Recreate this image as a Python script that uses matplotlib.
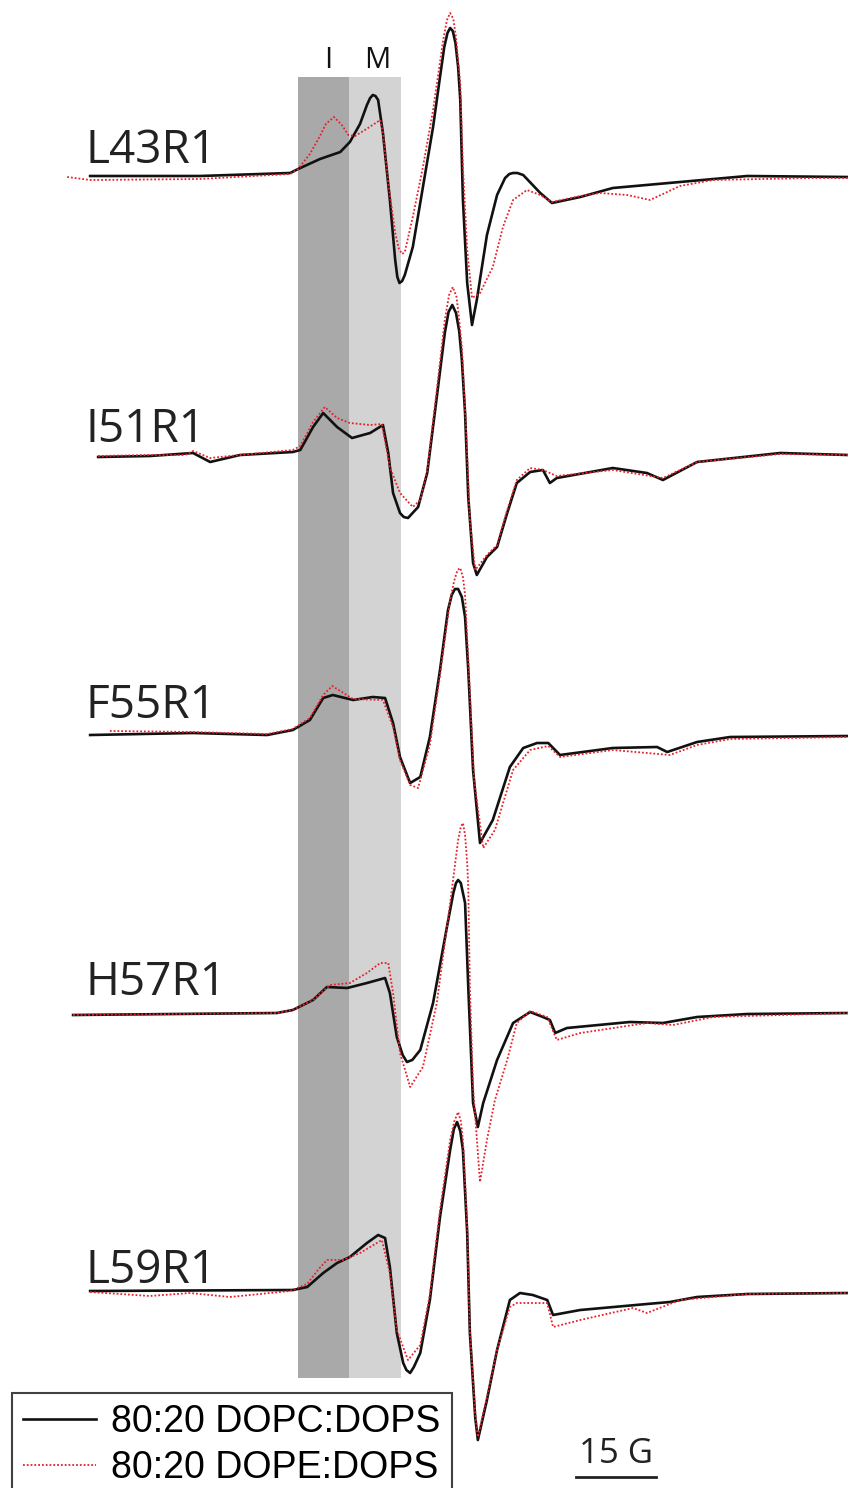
import numpy as np
import matplotlib
matplotlib.use("Agg")
import matplotlib.pyplot as plt

plt.rcParams['font.family'] = ['Open Sans', 'DejaVu Sans']

# =========================
# data: (field in G, signal in a.u. with baseline = 0)
# pc = 80:20 DOPC:DOPS (black), pe = 80:20 DOPE:DOPS (red)
# =========================
names = ["L43R1", "I51R1", "F55R1", "H57R1", "L59R1"]
legend_labels = ["80:20 DOPC:DOPS", "80:20 DOPE:DOPS"]

l43_pc = [(16.9, 1), (37.5, 1), (54.4, 4), (55.9, 8), (60.0, 18), (63.8, 25), (65.6, 35), (67.5, 53),
          (68.8, 72), (69.4, 79), (69.9, 82), (70.4, 81), (70.9, 77), (71.8, 44), (73.1, -23), (74.1, -83),
          (74.5, -100), (74.9, -106), (75.4, -104), (75.9, -98), (77.4, -70), (79.3, -10), (81.2, 50),
          (82.5, 100), (83.3, 130), (83.9, 144), (84.4, 149), (84.9, 146), (85.4, 134), (85.9, 110),
          (86.3, 77), (86.8, -23), (87.6, -106), (88.5, -148), (89.4, -123), (91.3, -58), (93.2, -18),
          (94.7, -1), (95.5, 3), (96.2, 4), (97.0, 4), (98.1, 2), (101.3, -16), (103.5, -26), (108.8, -20),
          (114.9, -11), (127.5, -5), (140.1, 1), (159.0, 0)]
l43_pe = [(12.6, 0), (16.9, -3), (37.5, -2), (54.4, 3), (55.9, 8), (58.1, 23), (60.0, 41), (61.1, 53),
          (62.6, 60), (64.1, 52), (65.3, 42), (66.6, 41), (69.0, 49), (71.3, 57), (71.8, 44), (72.8, -6),
          (74.1, -56), (74.8, -72), (75.4, -77), (75.9, -75), (77.4, -40), (79.3, 10), (81.2, 67),
          (83.1, 137), (83.8, 157), (84.4, 164), (85.0, 158), (85.5, 140), (86.0, 110), (86.3, 94),
          (86.8, 10), (87.6, -73), (88.5, -121), (90.0, -116), (92.4, -90), (94.3, -50), (96.2, -23),
          (98.8, -13), (101.3, -18), (103.5, -25), (108.8, -19), (112.5, -16), (117.6, -18), (121.9, -23),
          (127.5, -9), (133.7, -3), (152.4, -1), (159.0, -1)]

i51_pc = [(18.4, -2), (28.1, -1), (36.2, 2), (39.4, -7), (45.0, 0), (54.9, 3), (56.3, 5), (58.7, 28),
          (60.6, 42), (63.2, 28), (66.0, 17), (69.4, 22), (71.8, 30), (72.8, 2), (73.7, -38), (75.0, -58),
          (75.7, -62), (76.5, -63), (78.4, -52), (80.1, -18), (81.9, 58), (83.4, 122), (84.1, 143),
          (84.8, 150), (85.5, 142), (86.1, 124), (86.6, 95), (87.2, 42), (87.8, -42), (88.7, -108),
          (89.4, -120), (91.3, -102), (93.2, -92), (95.1, -58), (96.9, -28), (99.4, -17), (101.8, -15),
          (103.1, -28), (104.4, -23), (114.9, -13), (121.3, -18), (124.3, -25), (130.7, -7), (146.3, 2),
          (159.0, 0)]
i51_pe = [(18.4, -1), (28.1, 0), (34.7, 0), (36.2, 4), (39.4, -3), (45.0, 0), (54.9, 5), (56.3, 9),
          (58.7, 33), (60.9, 48), (63.2, 37), (65.6, 32), (69.4, 30), (71.6, 31), (73.1, -12), (75.0, -38),
          (77.4, -52), (78.8, -45), (80.1, -15), (81.9, 65), (83.4, 135), (84.2, 160), (84.9, 168),
          (85.6, 158), (86.1, 135), (86.6, 108), (87.4, 25), (88.1, -65), (89.1, -115), (91.3, -100),
          (93.2, -90), (95.1, -55), (96.9, -25), (99.4, -13), (101.8, -15), (104.4, -21), (114.9, -15),
          (124.3, -23), (130.7, -7), (146.3, 1), (159.0, 0)]

f55_pc = [(16.9, 0), (36.2, 2), (50.1, 0), (54.9, 5), (58.1, 15), (60.6, 37), (62.4, 40), (66.2, 35),
          (69.9, 38), (72.2, 37), (73.7, 12), (75.0, -22), (76.9, -48), (78.8, -42), (80.6, -2), (82.5, 65),
          (84.0, 125), (84.7, 140), (85.3, 146), (85.9, 146), (86.6, 138), (87.2, 118), (87.8, 65),
          (88.7, -35), (90.0, -108), (92.4, -85), (95.6, -32), (98.1, -13), (100.7, -8), (102.8, -8),
          (105.0, -20), (114.9, -13), (123.2, -12), (125.1, -17), (130.7, -7), (136.9, -2), (159.0, -1)]
f55_pe = [(20.6, 4), (36.2, 3), (50.1, 1), (54.9, 6), (58.1, 17), (60.6, 40), (62.3, 49), (66.2, 36),
          (71.8, 35), (73.7, 8), (75.0, -25), (76.9, -50), (78.4, -53), (80.6, -10), (82.5, 60), (84.4, 135),
          (85.2, 155), (85.8, 165), (86.3, 167), (86.8, 158), (87.2, 140), (87.9, 65), (88.9, -45),
          (90.6, -113), (92.8, -95), (96.2, -35), (99.4, -15), (102.8, -11), (105.0, -22), (114.9, -15),
          (125.6, -20), (130.7, -10), (136.9, -4), (159.0, -2)]

h57_pc = [(13.7, -2), (51.9, 0), (54.9, 3), (58.7, 13), (61.3, 26), (65.1, 25), (68.8, 30), (72.2, 35),
          (73.1, 20), (74.4, -24), (75.5, -42), (76.3, -49), (77.3, -47), (78.8, -37), (81.2, 10), (83.8, 86),
          (85.0, 120), (85.5, 130), (85.9, 133), (86.4, 130), (87.2, 110), (87.8, 26), (88.7, -90),
          (89.6, -114), (90.6, -90), (93.2, -47), (96.2, -10), (99.4, 1), (101.8, -4), (103.1, -7),
          (104.1, -20), (106.3, -15), (118.1, -9), (124.3, -10), (130.7, -4), (140.1, -1), (159.0, 0)]
h57_pe = [(13.7, -2), (51.9, 0), (54.9, 3), (58.7, 13), (61.9, 28), (65.6, 30), (68.8, 40), (71.3, 50),
          (72.8, 50), (73.7, 20), (75.0, -40), (76.9, -74), (79.3, -54), (81.9, 10), (84.4, 110),
          (85.9, 173), (86.4, 186), (86.8, 190), (87.2, 178), (87.6, 150), (87.8, 126), (88.1, 26),
          (88.7, -74), (90.0, -169), (91.3, -127), (92.8, -87), (95.1, -47), (96.9, -10), (99.4, 2),
          (102.6, -4), (104.4, -27), (108.8, -20), (121.3, -10), (126.2, -12), (133.7, -4), (159.0, 0)]

l59_pc = [(16.9, 0), (54.9, 1), (57.6, 4), (60.6, 18), (63.2, 28), (65.6, 34), (68.8, 48), (70.9, 56),
          (72.2, 53), (73.1, 24), (74.4, -42), (75.6, -72), (76.2, -79), (76.9, -82), (77.6, -76),
          (78.8, -62), (80.6, -9), (82.5, 74), (84.4, 141), (85.1, 162), (85.7, 169), (86.3, 160),
          (86.8, 141), (87.6, 58), (88.1, -42), (89.1, -126), (89.6, -149), (91.3, -109), (93.2, -59),
          (95.6, -9), (97.5, -2), (99.9, -4), (102.6, -9), (103.7, -24), (108.8, -19), (121.3, -13),
          (125.6, -11), (130.7, -6), (140.1, -3), (159.0, -2)]
l59_pe = [(16.9, -1), (28.1, -5), (35.6, -2), (43.1, -6), (54.4, 0), (57.6, 7), (59.6, 21), (61.3, 31),
          (64.3, 31), (67.5, 38), (71.6, 51), (73.1, 18), (74.4, -39), (76.5, -69), (78.8, -54), (80.6, -4),
          (82.5, 81), (84.4, 151), (85.2, 170), (85.9, 179), (86.4, 170), (86.8, 151), (87.6, 66),
          (88.1, -39), (89.1, -122), (89.6, -146), (91.3, -106), (93.2, -59), (95.6, -16), (96.9, -12),
          (102.6, -12), (103.7, -36), (108.8, -29), (118.7, -17), (121.3, -22), (127.5, -9), (140.1, -3),
          (159.0, -2)]

pc_spectra = [l43_pc, i51_pc, f55_pc, h57_pc, l59_pc]
pe_spectra = [l43_pe, i51_pe, f55_pe, h57_pe, l59_pe]

# shaded regions (G)
band_i = (55.9, 65.4)
band_m = (65.4, 75.2)
scale_g = 15

# =========================
# layout
# =========================
offsets = [-177, -455, -735, -1013, -1291]
label_y = [-163, -442, -718, -995, -1283]

fig = plt.figure(figsize=(8.48, 14.88), dpi=100)
ax = fig.add_axes([0, 0, 1, 1])
ax.set_xlim(0, 159)
ax.set_ylim(-1488, 0)
ax.axis('off')

ax.axvspan(*band_i, ymin=0.074, ymax=0.948, color='#a9a9a9', lw=0, zorder=0)
ax.axvspan(*band_m, ymin=0.074, ymax=0.948, color='#d3d3d3', lw=0, zorder=0)
ax.text(61.5, -68, "I", ha='center', va='baseline', fontsize=21, color='#111111')
ax.text(70.7, -68, "M", ha='center', va='baseline', fontsize=21, color='#111111')

handles = []
for i in range(len(names)):
    pc = np.array(pc_spectra[i])
    pe = np.array(pe_spectra[i])
    h2, = ax.plot(pe[:, 0], pe[:, 1] + offsets[i], color='#e8202a',
                  lw=1.3, ls=(0, (1, 1.1)), zorder=3)
    h1, = ax.plot(pc[:, 0], pc[:, 1] + offsets[i], color='#111111',
                  lw=1.9, solid_joinstyle='round', zorder=2)
    ax.text(16.0, label_y[i], names[i], ha='left', va='baseline', fontsize=33, color='#222222')
    if i == 0:
        handles = [h1, h2]

# scale bar
ax.plot([108.0, 108.0 + scale_g], [-1477, -1477], color='#222222', lw=2)
ax.text(108.0 + scale_g / 2, -1463, f"{scale_g} G", ha='center', va='baseline', fontsize=25, color='#222222')

leg = ax.legend(handles, legend_labels, loc='upper left', bbox_to_anchor=(0.014, 0.0638),
                bbox_transform=fig.transFigure, frameon=True, fancybox=False, borderaxespad=0,
                prop={'family': 'Liberation Sans', 'size': 27}, handlelength=1.95, handletextpad=0.4,
                labelspacing=0.25, borderpad=0.3)
leg.get_frame().set_edgecolor('#111111')
leg.get_frame().set_linewidth(1.5)

fig.savefig("out.png", dpi=100)
